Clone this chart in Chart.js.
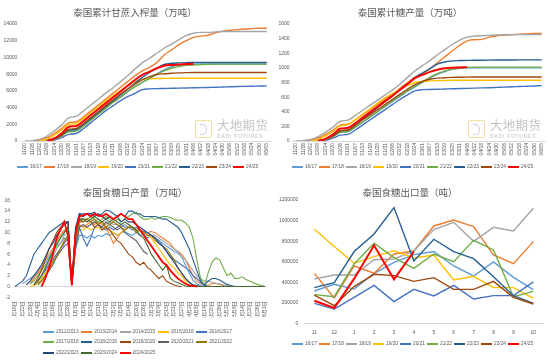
<!DOCTYPE html>
<html><head><meta charset="utf-8">
<script src="https://cdn.jsdelivr.net/npm/chart.js@4.4.1/dist/chart.umd.min.js"></script>
<style>
html,body{margin:0;padding:0;background:#fff;}
#wrap{position:relative;width:550px;height:360px;overflow:hidden;font-family:"Liberation Sans","Noto Sans CJK SC",sans-serif;}
.panel{position:absolute;width:275px;height:180px;}
.panel canvas{position:absolute;left:0;top:0;}
.title{position:absolute;left:0;width:270px;text-align:center;font-family:"Noto Sans CJK SC",sans-serif;font-size:9.5px;line-height:12px;color:#595959;top:6px;white-space:nowrap;}
.legend{position:absolute;left:0;width:275px;display:flex;justify-content:center;font-size:4.8px;line-height:6px;color:#595959;white-space:nowrap;}
.legend .it{display:flex;align-items:center;margin:0 1px;}
.legend .ln,.legend3 .ln{display:inline-block;width:11px;height:2px;margin-right:2px;}
.legend3{position:absolute;left:43px;display:grid;grid-template-columns:repeat(5,38.3px);grid-auto-rows:10.3px;font-size:4.8px;line-height:6px;color:#595959;white-space:nowrap;}
.legend3 .it{display:flex;align-items:center;}
.wm{position:absolute;width:80px;height:20px;pointer-events:none;white-space:nowrap;}
.wm .logo{position:absolute;left:0;top:0;width:15px;height:16px;border:1.5px solid #f2dea0;border-radius:2px;}
.wm .logo i{position:absolute;left:4px;top:3px;width:6px;height:9px;border:1.5px solid #c9d3df;border-left:none;border-radius:0 5px 5px 0;}
.wm .cn{position:absolute;left:22px;top:-2px;font-family:"Noto Sans CJK SC",sans-serif;font-size:12.5px;line-height:14px;color:#c4c4c4;letter-spacing:0.3px;white-space:nowrap;}
.wm .en{position:absolute;left:22px;top:12.5px;font-family:"Liberation Sans",sans-serif;font-weight:bold;font-size:5px;line-height:6px;color:#cfcfcf;letter-spacing:0.75px;white-space:nowrap;}
</style>
</head><body>
<div id="wrap">
  <div class="panel" id="p1" style="left:0;top:0;"><canvas id="c1" width="275" height="180"></canvas>
    <div class="title">泰国累计甘蔗入榨量（万吨）</div>
    <div class="wm" style="left:195px;top:120px;"><div class="logo"><i></i></div><div class="cn">大地期货</div><div class="en">DADI FUTURES</div></div>
    <div class="legend" id="lg1" style="top:164px;"></div>
  </div>
  <div class="panel" id="p2" style="left:275px;top:0;"><canvas id="c2" width="275" height="180"></canvas>
    <div class="title">泰国累计糖产量（万吨）</div>
    <div class="wm" style="left:193px;top:120px;"><div class="logo"><i></i></div><div class="cn">大地期货</div><div class="en">DADI FUTURES</div></div>
    <div class="legend" id="lg2" style="top:164px;"></div>
  </div>
  <div class="panel" id="p3" style="left:0;top:180px;"><canvas id="c3" width="275" height="180"></canvas>
    <div class="title">泰国食糖日产量（万吨）</div>
    <div class="legend3" id="lg3" style="top:147px;"></div>
  </div>
  <div class="panel" id="p4" style="left:275px;top:180px;"><canvas id="c4" width="275" height="180"></canvas>
    <div class="title">泰国食糖出口量（吨）</div>
    <div class="legend" id="lg4" style="top:160.5px;"></div>
  </div>
</div>
<script>
// ---------- shared ----------
const seasons = ['16/17','17/18','18/19','19/20','20/21','21/22','22/23','23/24','24/25'];
const seasonColors = ['#5B9BD5','#ED7D31','#A5A5A5','#FFC000','#4472C4','#70AD47','#255E91','#9E480E','#FF0000'];
const dateLabels = ['11/20','11/26','12/02','12/08','12/14','12/20','12/26','01/01','01/07','01/13','01/19','01/25','01/31','02/06','02/12','02/18','02/24','03/01','03/07','03/13','03/19','03/25','03/31','04/06','04/12','04/18','04/24','04/30','05/06','05/12','05/18','05/24','05/30','06/05'];

// ---------- panel 1: cumulative cane crush (万吨) ----------
const crush1617 = [null,null,0,50,300,700,1200,1300,1900,2600,3300,4000,4700,5300,5900,6500,7000,7500,8000,8500,8900,9100,9200,9200,9200,9200,9200,9200,9200,9200,9200,9200,9200,9200];
const crush1718 = [null,0,100,400,900,1500,2200,2300,2900,3600,4300,5000,5700,6400,7100,7800,8400,8800,9400,10300,10900,11500,12000,12400,12550,12650,12950,13150,13250,13320,13400,13450,13500,13500];
const crush1819 = [0,50,200,600,1200,1900,2800,2950,3600,4300,5000,5700,6350,7050,7800,8600,9350,9900,10500,11100,11600,12100,12600,12900,13000,13000,13050,13100,13100,13100,13100,13100,13100,13100];
const crush1920 = [null,null,0,200,700,1300,2000,2100,2700,3400,4100,4800,5400,6000,6600,7100,7400,7450,7480,7490,7500,7500,7500,7500,7500,7500,7500,7500,7500,7500,7500,7500,7500,7500];
const crush2021 = [null,null,null,0,100,400,800,900,1500,2200,2900,3600,4200,4800,5300,5700,6150,6240,6270,6290,6310,6330,6350,6370,6390,6410,6430,6460,6490,6520,6540,6560,6580,6600];
const crush2122 = [null,null,null,0,200,600,1100,1200,1800,2500,3200,3900,4600,5200,5900,6500,7000,7500,8000,8400,8700,8900,9050,9100,9150,9180,9200,9200,9200,9200,9200,9200,9200,9200];
const crush2223 = [null,null,null,0,250,700,1300,1400,2000,2700,3400,4100,4800,5500,6200,6900,7600,8200,8700,9150,9300,9350,9380,9400,9400,9400,9400,9400,9400,9400,9400,9400,9400,9400];
const crush2324 = [null,null,null,0,250,700,1400,1500,2100,2800,3500,4200,4900,5600,6200,6800,7300,7700,7950,8050,8100,8150,8180,8200,8200,8200,8200,8200,8200,8200,8200,8200,8200,8200];
const crush2425 = [null,null,null,0,300,900,1700,1800,2400,3100,3800,4500,5200,5900,6600,7300,7900,8300,8700,9000,9100,9150,9200,9230];
const crushTicks = [0,2000,4000,6000,8000,10000,12000,14000];

// ---------- panel 2: cumulative sugar output (万吨) ----------
const sugar1617 = [null,null,0,5,30,70,120,130,190,260,330,400,470,540,610,680,740,800,860,910,950,980,995,1000,1000,1000,1000,1000,1000,1000,1000,1000,1000,1000];
const sugar1718 = [null,0,10,40,90,150,220,230,290,360,430,500,570,640,720,800,870,920,990,1070,1150,1230,1310,1370,1385,1390,1420,1440,1450,1455,1460,1465,1470,1470];
const sugar1819 = [0,5,20,60,120,190,270,285,350,420,490,560,630,700,780,870,960,1030,1100,1180,1250,1320,1380,1420,1435,1440,1445,1450,1452,1454,1455,1455,1455,1455];
const sugar1920 = [null,null,0,20,70,130,210,220,290,370,440,520,590,650,710,760,800,815,822,826,828,830,830,830,830,830,830,830,830,830,830,830,830,830];
const sugar2021 = [null,null,null,0,10,40,80,90,150,220,290,360,430,500,570,630,685,702,705,708,711,714,717,720,723,726,729,733,737,741,745,749,753,757];
const sugar2122 = [null,null,null,0,20,60,120,130,190,260,330,400,480,550,620,690,750,810,870,920,960,985,1000,1005,1008,1010,1010,1010,1010,1010,1010,1010,1010,1010];
const sugar2223 = [null,null,null,0,25,70,140,150,220,300,380,460,540,620,700,780,870,930,990,1050,1080,1095,1100,1102,1104,1105,1106,1107,1108,1108,1109,1109,1110,1110];
const sugar2324 = [null,null,null,0,25,70,140,150,215,290,360,430,500,570,640,710,770,815,845,860,865,870,872,874,875,875,875,875,875,875,875,875,875,875];
const sugar2425 = [null,null,null,0,30,90,170,180,245,320,395,470,545,620,700,780,860,905,945,975,995,1002,1006,1010];
const sugarTicks = [0,200,400,600,800,1000,1200,1400,1600];

// ---------- panel 3: daily sugar output (万吨), one point every 3 days ----------
const dailySeasons = ['2012/2013','2013/2014','2014/2015','2015/2016','2016/2017','2017/2018','2018/2019','2019/2020','2020/2021','2021/2022','2022/2023','2023/2024','2024/2025'];
const dailyColors = ['#5B9BD5','#ED7D31','#A5A5A5','#FFC000','#4472C4','#70AD47','#255E91','#9E480E','#636363','#997300','#264478','#43682B','#FF0000'];
const dayTicks = ['11月16日','11月22日','11月28日','12月4日','12月10日','12月16日','12月22日','12月28日','1月3日','1月9日','1月15日','1月21日','1月27日','2月2日','2月8日','2月14日','2月20日','2月26日','3月3日','3月9日','3月15日','3月21日','3月27日','4月2日','4月8日','4月14日','4月20日','4月26日','5月2日','5月8日','5月14日','5月20日','5月26日','6月1日'];
const d2012 = [null,null,0.5,1,1.5,2,2.5,3.5,4.5,5.5,6.5,7.5,8,9,8.5,0.3,7,9.5,9.5,9,9.5,9,9.5,9.3,9.8,9.5,10,9.5,10,10.2,9.8,9.5,10,9.5,9.7,9,9.5,9,8.5,8,7.5,7,6.5,6.2,5.5,4,2.5,1.2,0.5,0.2,0,0,0];
const d2013 = [null,null,null,null,0.5,1.5,2.5,3.5,5,6,7,8.5,9.5,10.5,10,0.5,9,11.5,11,11.5,12,11.5,12,11.5,11,9.5,8,9,10,10.5,11,11,10.5,10.5,10,10,10.2,10,9.5,9,8.5,8,7,6.5,6,5,3.5,2,1,0.5,0.3,0.2,0.5,0.6,0.4,0.2,0];
const d2014 = [null,null,null,null,null,0.5,1,2,3,4.5,5.5,7,8,9.5,10,0.5,9,12,12.5,12,12.5,12,12.5,12,11.5,12,11.5,11.5,11,11.5,11,11,10.5,10.5,10,10,9.5,9.5,9,8.5,8,7.5,7,6.5,5.5,5,4,3,2,1.5,1,1,0.8,0.6,0.5,0.3,0.2,0];
const d2015 = [null,null,null,null,0,0.2,0.5,1.5,2.5,3.5,5,6,7,8.5,9,0.5,8,10.5,10.5,11,10.5,10.8,11,10.5,11,10.5,10,9.5,10,10.5,11,11,10.5,10.5,10,9.5,9,8,7,6,5,4,3.5,2.5,2,1,0.2,0];
const d2016 = [null,null,null,null,null,0.3,1,2,3,4,5,6,7,8,9,0.5,8,11,9,7.5,9,11,11.5,11,10.5,11,10.5,11,11.5,11,11,10.5,11,10.5,10.2,10,9.5,9,8.5,7.5,6.5,5.5,5,4.5,4,3.5,3,2,1.5,0.8,0.3,0];
const d2017 = [null,null,null,null,0.5,1,2,3,4,5,6.5,7.5,9,10,11,0.5,10,12.5,12.5,12.5,13,12.5,12,12.5,13,12.5,12,12.5,12,12.5,13,13.5,13.8,13,12.5,12.5,12.8,12.5,12.7,13,13,12.8,12.5,12.3,12.3,11.8,11,9,5,1.5,0.2,2.5,4.5,5.3,5,3.5,2,2.5,1.5,1.5,1.8,1.3,1,0.7,0.4,0.2,0];
const d2018 = [0,0.5,1,2,4,6,7,8,9,10,10.5,11,11.5,12,12,0.5,10,13.5,13.5,13.5,13.5,13.8,13,13.5,14.2,14,13.5,13,13.5,13,14,14,13.5,13.5,13,13,13,13,12.8,12.5,12.5,12,11.5,11,10,8.5,7,5,3,1,0.2,1,1.5,1.5,1.2,0.8,0.4,0.2,0];
const d2019 = [null,null,null,null,null,0.3,1.5,3,5,7,8.5,10,11,11.5,12,0.5,10,12.5,12,12.5,12,11,11.5,10.5,11,10.5,9.5,8.5,8,7,6,5.5,4.5,4,4.5,3.5,3,2.2,1.5,2,1,0.6,0.3,0.1,0];
const d2020 = [null,null,null,null,null,null,0.5,1,2,3,4,5.5,6.5,7.5,8,0.3,7,11,11.5,11,11.5,12,11.5,11,12,11.5,11,10.5,11,10,9.5,9,8.5,7.5,6.5,6];
const d2021 = [null,null,null,null,null,null,0.3,1,2,3,4.5,5.5,7,8.5,9.5,0.3,9,12,12,12.5,12,12.5,11.5,12,11,11.5,12,11.5,11,10.5,11,11,10,10.5,10,9.5,9.5,8.5,8,7.5,7,6,5,3.5,2.5,1.5,0.8,0.3,0];
const d2022 = [null,null,null,0.3,1,2,3,4,5.5,7,8,9.5,10.5,11.5,12,0.3,11,13.5,13,13.5,13.5,13,13.5,13,12.5,13,12.5,13,12,12.5,12,12,11.5,11,10.5,10,9.5,9,8,7.5,6.5,5.5,4.5,3.5,2.5,1.5,0.8,0.3,0.2,0];
const d2023 = [null,null,null,null,null,0.3,1,2,3.5,5,6.5,8,9,10,11,0.3,10,12.5,12.5,12,12.5,13,12.5,12,12.5,12,12.5,12,11.5,12,11.5,11,10.5,9.5,9,7.5,6,5,4,3,4,1.5,1,0.7,0.4,0.1,0,0,0,0,0,0,0,0,0,0,0,0,0,0,0,0,0,0,0,0,0];
const d2024 = [null,null,null,null,null,null,null,0,1.5,3.5,6,9,10.5,12,9.5,0.2,10,13,13.2,13.5,13,13.5,13.2,13,13.5,13,12.5,13,13.5,13,12.5,12.5,11.5,10.5,9.5,8.5,7.5,6.5,5.5,4.5,4,3,2.2,1.5,1,0.5,0.2,0.1,0];
const dailyTicks = [-2,0,2,4,6,8,10,12,14,16];

// ---------- panel 4: monthly exports (吨) ----------
const months = ['11','12','1','2','3','4','5','6','7','8','9','10'];
const exp1617 = [317000,382000,336000,488000,595000,670000,700000,560000,463000,600000,450000,330000];
const exp1718 = [488000,250000,560000,490000,676000,705000,948000,1006000,942000,667000,582000,796000];
const exp1819 = [434000,472000,472000,621000,628000,705000,913000,984000,800000,935000,900000,1120000];
const exp1920 = [916000,748000,586000,650000,709000,638000,667000,424000,460000,350000,350000,246000];
const exp2021 = [197000,142000,255000,372000,214000,333000,269000,372000,240000,272000,272000,405000];
const exp2122 = [282000,262000,580000,780000,641000,537000,676000,602000,809000,715000,262000,314000];
const exp2223 = [350000,398000,700000,870000,1126000,608000,819000,700000,631000,456000,272000,197000];
const exp2324 = [278000,175000,360000,479000,466000,411000,447000,333000,333000,411000,256000,191000];
const exp2425 = [223000,152000,437000,760000,430000,700000];
const exportTicks = [0,200000,400000,600000,800000,1000000,1200000];

// ---------- helpers ----------
const TXT = '#595959';
const FONT = '"Liberation Sans","Noto Sans CJK SC",sans-serif';
Chart.defaults.font.family = FONT;
Chart.defaults.color = TXT;

function buildSets(names, colors, series, redIdx, w, wRed, tension) {
  return names.map((n, i) => ({
    label: n, data: series[i], borderColor: colors[i], backgroundColor: colors[i],
    borderWidth: i === redIdx ? wRed : w, pointRadius: 0, fill: false,
    tension: tension, cubicInterpolationMode: tension > 0 ? 'monotone' : 'default',
    order: -i, spanGaps: false
  }));
}

function makeChart(id, labels, datasets, cfg) {
  const tickVals = cfg.ticks;
  return new Chart(document.getElementById(id), {
    type: 'line',
    data: { labels: labels, datasets: datasets },
    options: {
      responsive: false, animation: false, devicePixelRatio: 1,
      layout: { padding: cfg.pad },
      plugins: { legend: { display: false }, title: { display: false }, tooltip: { enabled: false } },
      scales: {
        x: {
          type: 'category', offset: true,
          grid: { display: false, drawTicks: false },
          border: { display: cfg.xBorder, color: '#d9d9d9', width: 1 },
          ticks: { autoSkip: false, font: { size: 5, family: FONT }, color: TXT,
                   minRotation: cfg.rot, maxRotation: cfg.rot, padding: cfg.xPad },
          afterFit: s => { s.height = cfg.xH; }
        },
        y: {
          min: tickVals[0], max: tickVals[tickVals.length - 1],
          afterBuildTicks: s => { s.ticks = tickVals.map(v => ({ value: v })); },
          grid: cfg.zeroLine ? { display: true, drawTicks: false,
                  color: c => (c.tick && c.tick.value === 0) ? '#d9d9d9' : 'rgba(0,0,0,0)', lineWidth: 1 }
                : { display: false, drawTicks: false },
          border: { display: false },
          ticks: { font: { size: 5, family: FONT }, color: TXT, padding: cfg.yPad,
                   callback: v => String(v) },
          afterFit: s => { s.width = cfg.yW; }
        }
      }
    }
  });
}

function htmlLegend(elId, names, colors) {
  const el = document.getElementById(elId);
  names.forEach((n, i) => {
    const it = document.createElement('div'); it.className = 'it';
    const ln = document.createElement('span'); ln.className = 'ln'; ln.style.background = colors[i];
    const tx = document.createElement('span'); tx.textContent = n;
    it.appendChild(ln); it.appendChild(tx); el.appendChild(it);
  });
}

// ---------- draw ----------
makeChart('c1', dateLabels,
  buildSets(seasons, seasonColors, [crush1617,crush1718,crush1819,crush1920,crush2021,crush2122,crush2223,crush2324,crush2425], 8, 1.4, 2, 0.3),
  { ticks: crushTicks, pad: {top: 24, bottom: 19, left: 0, right: 4.6}, xH: 20, yW: 21.3, xPad: 2, yPad: 4, rot: 90, xBorder: true, zeroLine: false });
htmlLegend('lg1', seasons, seasonColors);

makeChart('c2', dateLabels,
  buildSets(seasons, seasonColors, [sugar1617,sugar1718,sugar1819,sugar1920,sugar2021,sugar2122,sugar2223,sugar2324,sugar2425], 8, 1.4, 2, 0.3),
  { ticks: sugarTicks, pad: {top: 24, bottom: 19, left: 0, right: 4.6}, xH: 20, yW: 17, xPad: 2, yPad: 2.5, rot: 90, xBorder: true, zeroLine: false });
htmlLegend('lg2', seasons, seasonColors);

const dayCats = [];
dayTicks.forEach((t, k) => { dayCats.push(t); if (k < dayTicks.length - 1) dayCats.push(''); });
makeChart('c3', dayCats,
  buildSets(dailySeasons, dailyColors, [d2012,d2013,d2014,d2015,d2016,d2017,d2018,d2019,d2020,d2021,d2022,d2023,d2024], 12, 1.1, 1.8, 0),
  { ticks: dailyTicks, pad: {top: 20.3, bottom: 42.7, left: 0, right: 8.1}, xH: 20, yW: 13.1, xPad: 4, yPad: 3, rot: 90, xBorder: false, zeroLine: true });
htmlLegend('lg3', dailySeasons, dailyColors);

makeChart('c4', months,
  buildSets(seasons, seasonColors, [exp1617,exp1718,exp1819,exp1920,exp2021,exp2122,exp2223,exp2324,exp2425], 8, 1.4, 2, 0),
  { ticks: exportTicks, pad: {top: 20, bottom: 24.3, left: 0, right: 6.7}, xH: 12, yW: 29.4, xPad: 5.5, yPad: 6, rot: 0, xBorder: true, zeroLine: false });
htmlLegend('lg4', seasons, seasonColors);
</script>
</body></html>
